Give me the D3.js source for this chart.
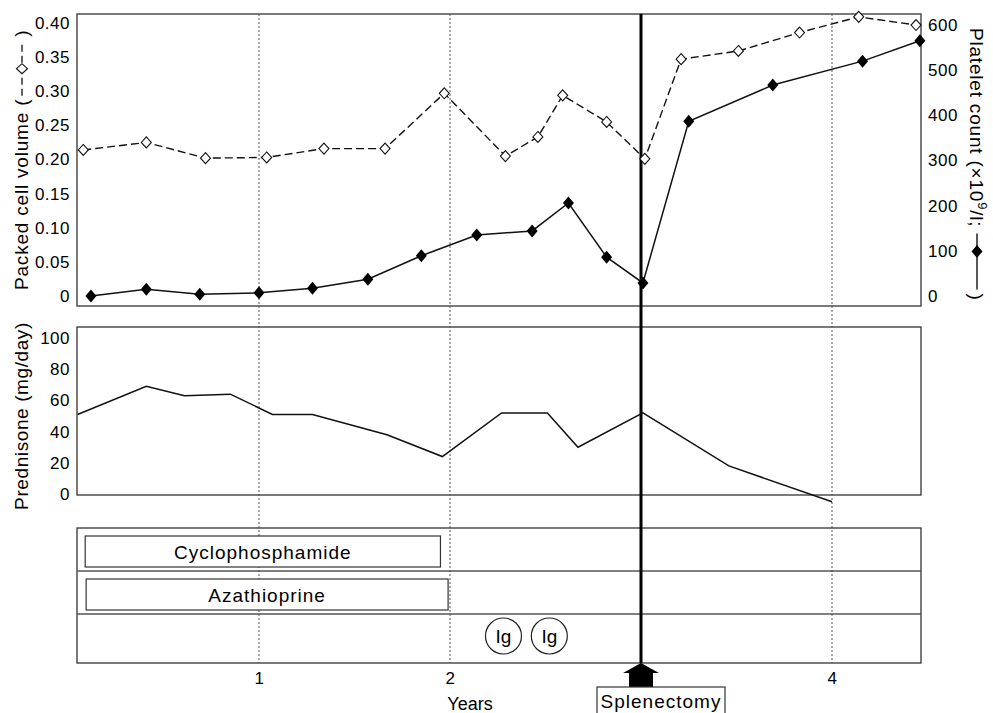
<!DOCTYPE html>
<html>
<head>
<meta charset="utf-8">
<script src="https://cdn.jsdelivr.net/npm/d3@7"></script>
<style>
  body { margin: 0; background: #fff; }
  text { font-family: "Liberation Sans", Arial, sans-serif; fill: #000; }
</style>
</head>
<body>
<script>
// values (time in years)
var pcvYears = [0.08, 0.41, 0.72, 1.04, 1.34, 1.66, 1.97, 2.29, 2.46, 2.59, 2.82, 3.02, 3.21, 3.51, 3.83, 4.14, 4.44];
var pcvValues = [0.214, 0.225, 0.202, 0.203, 0.216, 0.216, 0.297, 0.205, 0.233, 0.294, 0.255, 0.201, 0.347, 0.359, 0.386, 0.409, 0.397];

var plateletYears = [0.12, 0.41, 0.69, 1.0, 1.28, 1.57, 1.85, 2.14, 2.43, 2.62, 2.82, 3.01, 3.25, 3.69, 4.16, 4.46];
var plateletValues = [0, 15, 4, 7, 17, 37, 89, 135, 144, 206, 86, 29, 387, 467, 520, 565];

var prednisoneYears = [0.05, 0.41, 0.61, 0.85, 1.07, 1.28, 1.67, 1.96, 2.27, 2.51, 2.67, 3.01, 3.46, 4.0];
var prednisoneValues = [51, 69, 63, 64, 51, 51, 38, 24, 52, 52, 30, 52, 18, -5];

var treatments = ["Cyclophosphamide", "Azathioprine"];
var treatmentStart = [0.09, 0.095];
var treatmentEnd = [1.95, 1.99];
var igYears = [2.28, 2.52];
var splenectomyYear = 3;

var xTicks = [1, 2, 4];
var pcvTicks = [0, 0.05, 0.10, 0.15, 0.20, 0.25, 0.30, 0.35, 0.40];
var plateletTicks = [0, 100, 200, 300, 400, 500, 600];
var prednisoneTicks = [0, 20, 40, 60, 80, 100];

var W = 993, H = 713;
var left = 77, right = 921;
var top1 = 14, bot1 = 306;
var top2 = 327, bot2 = 495;
var top3 = 528, bot3 = 663;
var rows = [528, 571, 614, 663];

var svg = d3.select("body").append("svg")
    .attr("width", W)
    .attr("height", H);

var x = d3.scaleLinear().domain([1, 4]).range([259, 832]);
var yPcv = d3.scaleLinear().domain([0, 0.4]).range([296, 23]);
var yPlt = d3.scaleLinear().domain([0, 600]).range([296, 25]);
var yPred = d3.scaleLinear().domain([0, 100]).range([494, 338]);

// panel frames
[[top1, bot1], [top2, bot2], [top3, bot3]].forEach(function(p){
    svg.append("rect")
        .attr("x", left).attr("y", p[0])
        .attr("width", right - left).attr("height", p[1] - p[0])
        .attr("fill", "none").attr("stroke", "#333").attr("stroke-width", 1.3);
});
rows.slice(1, 3).forEach(function(r){
    svg.append("line")
        .attr("x1", left).attr("x2", right).attr("y1", r).attr("y2", r)
        .attr("stroke", "#555").attr("stroke-width", 1.3);
});

// dotted year lines
svg.selectAll(".grid")
    .data(xTicks)
    .enter().append("line")
        .attr("x1", function(d){ return x(d); })
        .attr("x2", function(d){ return x(d); })
        .attr("y1", top1).attr("y2", bot3)
        .attr("stroke", "#555").attr("stroke-width", 1)
        .attr("stroke-dasharray", "2,2");

// splenectomy line
svg.append("line")
    .attr("x1", x(splenectomyYear)).attr("x2", x(splenectomyYear))
    .attr("y1", top1).attr("y2", bot3)
    .attr("stroke", "#000").attr("stroke-width", 3);

function styleAxis(g, size){
    g.select(".domain").remove();
    g.selectAll("text").attr("font-size", size).attr("letter-spacing", 0.5)
        .attr("font-family", "Liberation Sans, Arial, sans-serif").attr("fill", "#000");
}

svg.append("g")
    .attr("transform", "translate(" + left + ",0)")
    .call(d3.axisLeft(yPcv).tickValues(pcvTicks).tickSize(0).tickPadding(7)
        .tickFormat(function(d){ return d === 0 ? "0" : d.toFixed(2); }))
    .call(styleAxis, 17);

svg.append("g")
    .attr("transform", "translate(" + right + ",0)")
    .call(d3.axisRight(yPlt).tickValues(plateletTicks).tickSize(0).tickPadding(7))
    .call(styleAxis, 17);

svg.append("g")
    .attr("transform", "translate(" + left + ",0)")
    .call(d3.axisLeft(yPred).tickValues(prednisoneTicks).tickSize(0).tickPadding(7))
    .call(styleAxis, 17);

svg.append("g")
    .attr("transform", "translate(0," + bot3 + ")")
    .call(d3.axisBottom(x).tickValues(xTicks).tickSize(0).tickPadding(9).tickFormat(d3.format("d")))
    .call(styleAxis, 17);

// lines
var pcvData = pcvYears.map(function(d, i){ return [d, pcvValues[i]]; });
var pltData = plateletYears.map(function(d, i){ return [d, plateletValues[i]]; });
var predData = prednisoneYears.map(function(d, i){ return [d, prednisoneValues[i]]; });

svg.append("path")
    .datum(pcvData)
    .attr("fill", "none").attr("stroke", "#111").attr("stroke-width", 1.4)
    .attr("stroke-dasharray", "8,4")
    .attr("d", d3.line().x(function(d){ return x(d[0]); }).y(function(d){ return yPcv(d[1]); }));

svg.append("path")
    .datum(pltData)
    .attr("fill", "none").attr("stroke", "#111").attr("stroke-width", 1.5)
    .attr("d", d3.line().x(function(d){ return x(d[0]); }).y(function(d){ return yPlt(d[1]); }));

svg.append("path")
    .datum(predData)
    .attr("fill", "none").attr("stroke", "#111").attr("stroke-width", 1.5)
    .attr("d", d3.line().x(function(d){ return x(d[0]); }).y(function(d){ return yPred(d[1]); }));

var openDiamond = "M0,-5.5L5,0L0,5.5L-5,0Z";
var fullDiamond = "M0,-6.5L5.5,0L0,6.5L-5.5,0Z";

svg.selectAll(".pcv")
    .data(pcvData)
    .enter().append("path")
        .attr("d", openDiamond)
        .attr("transform", function(d){ return "translate(" + x(d[0]) + "," + yPcv(d[1]) + ")"; })
        .attr("fill", "#fff").attr("stroke", "#111").attr("stroke-width", 1.1);

svg.selectAll(".plt")
    .data(pltData)
    .enter().append("path")
        .attr("d", fullDiamond)
        .attr("transform", function(d){ return "translate(" + x(d[0]) + "," + yPlt(d[1]) + ")"; })
        .attr("fill", "#000");

// treatment bars
treatments.forEach(function(t, i){
    var y0 = rows[i] + 8, y1 = rows[i + 1] - 4;
    svg.append("rect")
        .attr("x", x(treatmentStart[i])).attr("y", y0)
        .attr("width", x(treatmentEnd[i]) - x(treatmentStart[i]))
        .attr("height", y1 - y0)
        .attr("fill", "#fff").attr("stroke", "#333").attr("stroke-width", 1.2);
    svg.append("text")
        .attr("x", (x(treatmentStart[i]) + x(treatmentEnd[i])) / 2)
        .attr("y", (y0 + y1) / 2 + 7)
        .attr("text-anchor", "middle")
        .attr("font-size", 19).attr("letter-spacing", 1)
        .text(t);
});

var ig = svg.selectAll(".ig")
    .data(igYears)
    .enter().append("g")
        .attr("transform", function(d){ return "translate(" + x(d) + ",636)"; });
ig.append("circle").attr("r", 18).attr("fill", "#fff").attr("stroke", "#222").attr("stroke-width", 1.2);
ig.append("text").attr("text-anchor", "middle").attr("y", 7).attr("font-size", 19).text("Ig");

// splenectomy marker
var cx = x(splenectomyYear);
svg.append("path")
    .attr("d", "M" + cx + ",663L" + (cx + 18) + ",673L" + (cx + 12) + ",673L" + (cx + 12) + ",687L" +
        (cx - 12) + ",687L" + (cx - 12) + ",673L" + (cx - 18) + ",673Z")
    .attr("fill", "#000");
svg.append("rect")
    .attr("x", 597).attr("y", 687).attr("width", 128).attr("height", 40)
    .attr("fill", "#fff").attr("stroke", "#333").attr("stroke-width", 1.2);
svg.append("text")
    .attr("x", 661).attr("y", 708).attr("text-anchor", "middle")
    .attr("font-size", 19).attr("letter-spacing", 1)
    .text("Splenectomy");

svg.append("text")
    .attr("x", 470).attr("y", 710).attr("text-anchor", "middle")
    .attr("font-size", 18)
    .text("Years");

// axis titles with legend symbols
var gl = svg.append("g").attr("transform", "translate(28,290) rotate(-90)");
var tl = gl.append("text").attr("font-size", 19).attr("letter-spacing", 0.8).text("Packed cell volume (");
var L = tl.node().getComputedTextLength();
gl.append("line").attr("x1", L + 3).attr("x2", L + 58).attr("y1", -6).attr("y2", -6)
    .attr("stroke", "#111").attr("stroke-width", 1.3).attr("stroke-dasharray", "7,4");
gl.append("path").attr("d", openDiamond).attr("transform", "translate(" + (L + 30) + ",-6)")
    .attr("fill", "#fff").attr("stroke", "#111").attr("stroke-width", 1.1);
gl.append("text").attr("x", L + 62).attr("font-size", 19).text(")");

var gr = svg.append("g").attr("transform", "translate(970,28) rotate(90)");
var tr = gr.append("text").attr("font-size", 19).attr("letter-spacing", 0.8);
tr.append("tspan").text("Platelet count (×10");
tr.append("tspan").attr("dy", -8).attr("font-size", 13).text("9");
tr.append("tspan").attr("dy", 8).text("/l;");
var R = tr.node().getComputedTextLength();
gr.append("line").attr("x1", R + 6).attr("x2", R + 62).attr("y1", -7).attr("y2", -7)
    .attr("stroke", "#111").attr("stroke-width", 1.4);
gr.append("path").attr("d", fullDiamond).attr("transform", "translate(" + (R + 24) + ",-7) rotate(90)")
    .attr("fill", "#000");
gr.append("text").attr("x", R + 66).attr("font-size", 19).text(")");

svg.append("text")
    .attr("transform", "translate(28,416) rotate(-90)")
    .attr("text-anchor", "middle")
    .attr("font-size", 19).attr("letter-spacing", 0.6)
    .text("Prednisone (mg/day)");
</script>
</body>
</html>
